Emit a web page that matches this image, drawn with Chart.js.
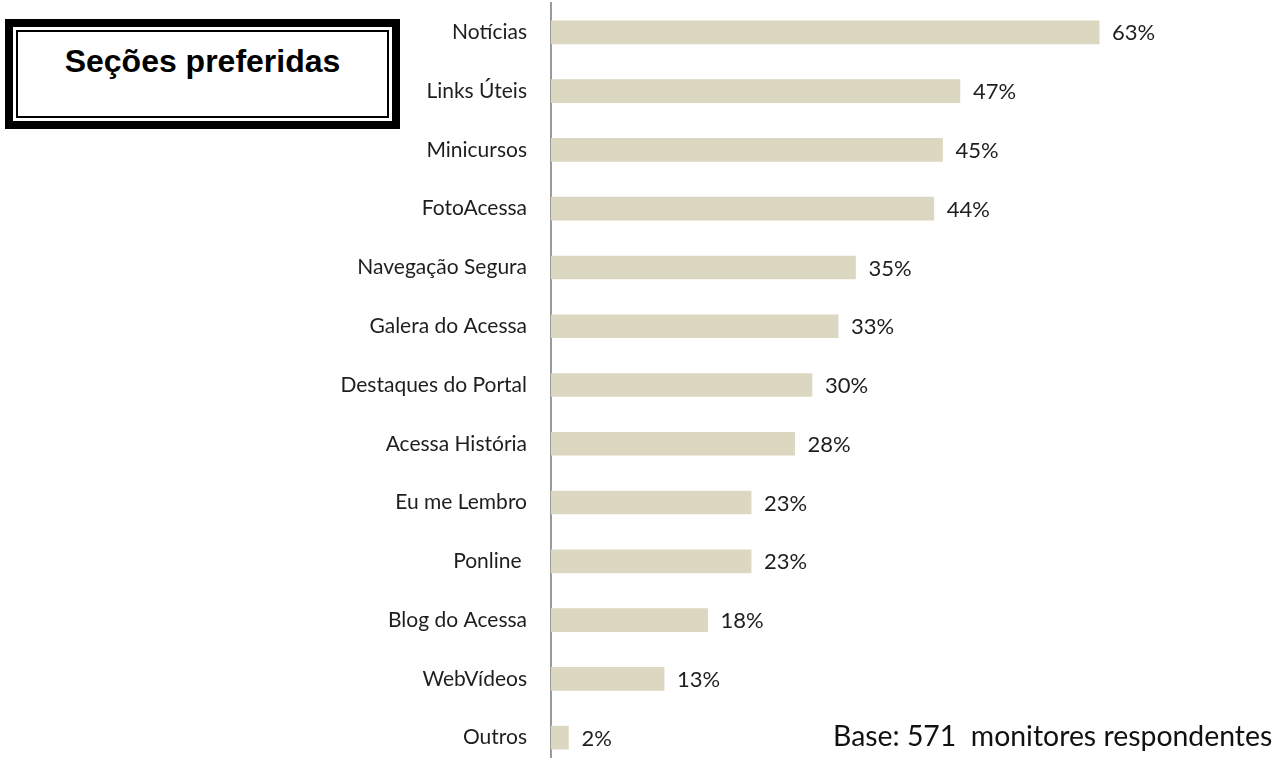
<!DOCTYPE html>
<html lang="pt-BR">
<head>
<meta charset="utf-8">
<title>Seções preferidas</title>
<script src="https://cdn.jsdelivr.net/npm/chart.js@4/dist/chart.umd.min.js"></script>
<style>
  html, body { margin: 0; padding: 0; background: #fff; overflow: hidden; }
  #wrap { position: relative; width: 1282px; height: 770px; }
  #chart { position: absolute; left: 0; top: 0; }
  .titlebox {
    position: absolute; left: 5px; top: 19px; width: 395px; height: 110px;
    box-sizing: border-box; border: 8px solid #000; background: #fff;
  }
  .titlebox .inner {
    position: absolute; left: 3px; top: 3px; right: 3px; bottom: 3px;
    border: 2.5px solid #000;
  }
  .titlebox .text {
    position: absolute; left: 0; right: 0; top: 16px; text-align: center;
    font: bold 32px "Liberation Sans", Arial, sans-serif; color: #000;
  }
  .base {
    position: absolute; left: 833px; top: 718px;
    font: 28.4px Lato, "Open Sans", sans-serif; color: #111; white-space: pre;
  }
</style>
</head>
<body>
<div id="wrap">
  <canvas id="chart" width="1282" height="770"></canvas>
  <div class="titlebox"><div class="inner"></div><div class="text">Seções preferidas</div></div>
  <div class="base">Base: 571  monitores respondentes</div>
</div>
<script>
const categories = [
  "Notícias", "Links Úteis", "Minicursos", "FotoAcessa", "Navegação Segura",
  "Galera do Acessa", "Destaques do Portal", "Acessa História", "Eu me Lembro",
  "Ponline ", "Blog do Acessa", "WebVídeos", "Outros"
];
const percentages = [63, 47, 45, 44, 35, 33, 30, 28, 23, 23, 18, 13, 2];

const labelFont = { family: "Lato, 'Open Sans', sans-serif", size: 21 };
const valueFont = { family: "Lato, 'Open Sans', sans-serif", size: 22 };
const textColor = "#1e1e1e";

// Writes the percentage to the right of each bar
const valueLabels = {
  id: "valueLabels",
  afterDatasetsDraw(chart) {
    const ctx = chart.ctx;
    const meta = chart.getDatasetMeta(0);
    ctx.save();
    ctx.font = `${valueFont.size}px ${valueFont.family}`;
    ctx.fillStyle = textColor;
    ctx.textAlign = "left";
    ctx.textBaseline = "middle";
    meta.data.forEach((bar, i) => {
      ctx.fillText(percentages[i] + "%", bar.x + 13, bar.y + 1);
    });
    ctx.restore();
  }
};

new Chart(document.getElementById("chart"), {
  type: "bar",
  data: {
    labels: categories,
    datasets: [{
      data: percentages,
      backgroundColor: "#dcd7c1",
      borderWidth: 0,
      barThickness: 23
    }]
  },
  options: {
    indexAxis: "y",
    responsive: false,
    animation: false,
    layout: { autoPadding: false, padding: { top: 3, bottom: 3, left: 0, right: 122 } },
    plugins: {
      legend: { display: false },
      tooltip: { enabled: false }
    },
    scales: {
      x: { min: 0, max: 70, display: false },
      y: {
        grid: { display: false },
        border: { display: true, color: "#9a9a9a", width: 2 },
        ticks: { font: labelFont, color: textColor, padding: 16 },
        afterFit(scale) {
          // fixed gutter for the category names; no extra room above/below the bars
          scale.width = 551;
          scale.paddingTop = 0;
          scale.paddingBottom = 0;
        }
      }
    }
  },
  plugins: [valueLabels]
});
</script>
</body>
</html>
